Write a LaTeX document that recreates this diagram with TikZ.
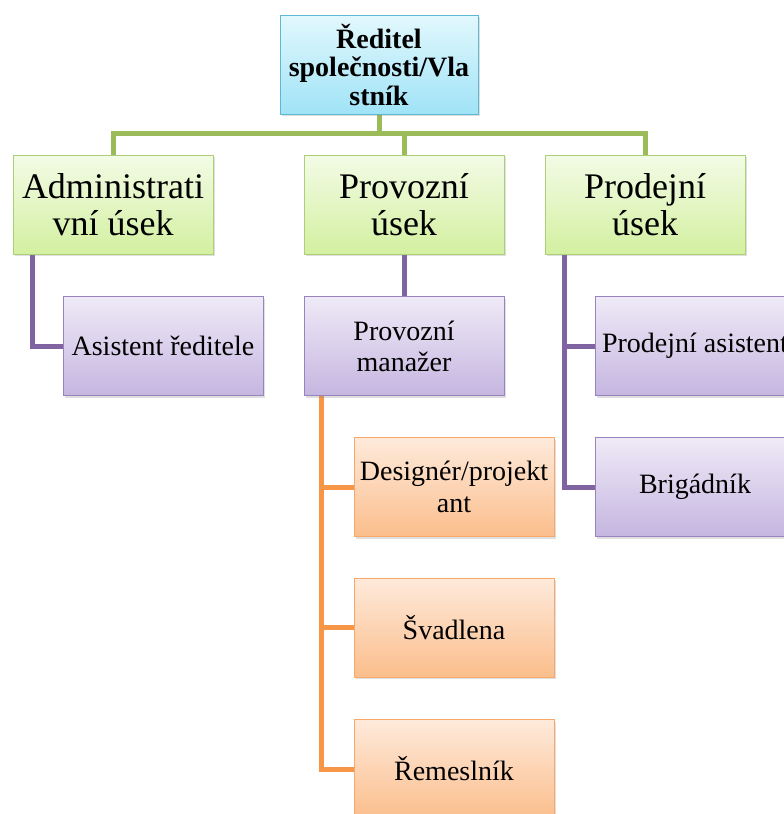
\documentclass[tikz,border=0pt]{standalone}
\usepackage{fontspec}
\setmainfont{LiberationSerif}[Extension=.ttf, UprightFont=*-Regular, BoldFont=*-Bold, ItalicFont=*-Italic, BoldItalicFont=*-BoldItalic]
\newfontfamily\tnr{LiberationSerif}[Extension=.ttf, UprightFont=*-Regular, BoldFont=*-Bold]
\usetikzlibrary{shadows,backgrounds}
\definecolor{cyanT}{HTML}{E2F8FD}
\definecolor{cyanB}{HTML}{A0E3F7}
\definecolor{cyanD}{HTML}{5FB8D2}
\definecolor{greenT}{HTML}{F3FBE6}
\definecolor{greenB}{HTML}{D3F0A0}
\definecolor{greenD}{HTML}{AECF7A}
\definecolor{greenL}{HTML}{9BBB59}
\definecolor{purpT}{HTML}{EFEAF7}
\definecolor{purpB}{HTML}{C5B6E0}
\definecolor{purpD}{HTML}{9883BE}
\definecolor{purpL}{HTML}{8064A2}
\definecolor{oranT}{HTML}{FEEADB}
\definecolor{oranB}{HTML}{FBBE8C}
\definecolor{oranD}{HTML}{F8A868}
\definecolor{oranL}{HTML}{F79646}
\tikzset{
  box/.style={rectangle, minimum width=200pt, minimum height=99pt, inner sep=2pt,
    align=center, line width=1pt, text=black,
    drop shadow={opacity=0.25, shadow xshift=2pt, shadow yshift=-2pt}},
  topbox/.style={box, top color=cyanT, bottom color=cyanB, draw=cyanD,
    font=\tnr\fontsize{28}{28.5}\selectfont\bfseries},
  secbox/.style={box, top color=greenT, bottom color=greenB, draw=greenD,
    font=\tnr\fontsize{36}{37}\selectfont},
  purbox/.style={box, top color=purpT, bottom color=purpB, draw=purpD,
    font=\tnr\fontsize{28}{31}\selectfont},
  orbox/.style={box, top color=oranT, bottom color=oranB, draw=oranD,
    font=\tnr\fontsize{28}{32}\selectfont},
  gline/.style={draw=greenL, line width=5pt},
  pline/.style={draw=purpL, line width=5pt},
  oline/.style={draw=oranL, line width=5pt},
}
\begin{document}
\begin{tikzpicture}[x=1pt,y=-1pt]
\useasboundingbox (0,0) rectangle (784,814);
\clip (0,0) rectangle (784,814);
\path (379,64.5) node[topbox, minimum width=198pt] (top) {Ředitel\\společnosti/Vla\\stník};
\path (113,204.5) node[secbox] (adm) {Administrati\\vní úsek};
\path (404,204.5) node[secbox] (prov) {Provozní\\úsek};
\path (645,204.5) node[secbox] (prod) {Prodejní\\úsek};
\path (163,346) node[purbox] (asist) {Asistent ředitele};
\path (404,346) node[purbox] (pm) {Provozní\\manažer};
\path (695,346) node[purbox] (pasist) {Prodejní asistent};
\path (695,487) node[purbox] (brig) {Brigádník};
\path (454,487) node[orbox] (des) {Designér/projekt\\ant};
\path (454,627.5) node[orbox] (svad) {Švadlena};
\path (454,769) node[orbox] (rem) {Řemeslník};
\begin{scope}[on background layer]
  \draw[gline] (top.south) -- ++(0,19) coordinate (bus) -| (adm.north);
  \draw[gline] (bus) -| (prov.north);
  \draw[gline] (bus) -| (prod.north);
  \draw[pline] ([xshift=20pt]adm.south west) |- (asist.west);
  \draw[pline] (prov.south) -- (pm.north);
  \draw[pline] ([xshift=20pt]prod.south west) |- (pasist.west);
  \draw[pline] ([xshift=20pt]prod.south west) |- (brig.west);
  \draw[oline] ([xshift=18pt]pm.south west) |- (des.west);
  \draw[oline] ([xshift=18pt]pm.south west) |- (svad.west);
  \draw[oline] ([xshift=18pt]pm.south west) |- (rem.west);
\end{scope}
\end{tikzpicture}
\end{document}
